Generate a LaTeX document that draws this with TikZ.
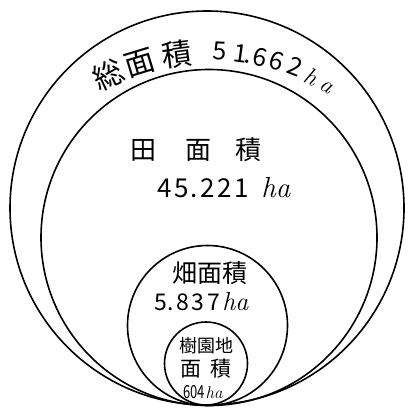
\documentclass[tikz,border=0pt]{standalone}
\usepackage{fontspec}
\usepackage{graphicx}
\newfontfamily\cjk{Noto Sans CJK JP}
\newcommand\hax[1]{{\rmfamily\itshape #1}}
\begin{document}
\begin{tikzpicture}[x=1pt,y=-1pt,
  ring/.style={draw=black,line width=1.6pt},
  lbl/.style={inner sep=0pt,outer sep=0pt,font=\cjk}]
\useasboundingbox (0,0) rectangle (407,409);
% nested circles, tangent at the bottom
\draw[ring] (207,208) circle[radius=197];
\draw[ring] (209,237.5) circle[radius=168];
\draw[ring] (207.5,325.5) circle[radius=80];
\draw[ring] (206,363.5) circle[radius=41.5];
% arched title
\coordinate (arcc) at (208,288);
\foreach \a/\c/\s/\r [count=\i] in {
  115.1/総/30/224.5, 106.9/面/30/224.5, 97.5/積/30/224.5,
  87.2/5/25/228, 82.2/1/25/228, 80.2/{.}/25/228, 77.3/6/25/228,
  73.1/6/25/228, 68.5/2/25/229, 64.0/\hax{h}/24/227, 59.4/\hax{a}/24/228}
  \path (arcc) ++(-\a:\r) node[lbl,anchor=base,rotate=\a-90,
     font=\cjk\fontsize{\s}{\s}\selectfont] (a\i) {\c};
% 田面積
\node[lbl,font=\cjk\fontsize{26}{26}\selectfont] (d1) at (143,150) {田};
\node[lbl,font=\cjk\fontsize{26}{26}\selectfont] (d2) at (198,150) {面};
\node[lbl,font=\cjk\fontsize{26}{26}\selectfont] (d3) at (248,150) {積};
\node[lbl,anchor=base west,font=\cjk\fontsize{26}{26}\selectfont] (dv) at (157,197)
  {4\kern3pt 5\kern2pt.\kern2pt 2\kern3pt 2\kern3pt 1\hspace{12pt}{\fontsize{29}{29}\selectfont\hax{ha}}};
% 畑面積
\node[lbl,font=\cjk\fontsize{25}{25}\selectfont] (h1) at (210,273) {畑面積};
\node[lbl,anchor=base west,font=\cjk\fontsize{23}{23}\selectfont] (hv) at (154,310)
  {5\kern1pt.\kern2pt 8\kern3pt 3\kern3pt 7\hspace{2pt}{\fontsize{26}{26}\selectfont\hax{ha}}};
% 樹園地面積
\node[lbl,font=\cjk\fontsize{18}{18}\selectfont] (j1) at (206,346) {樹園地};
\node[lbl,font=\cjk\fontsize{21}{21}\selectfont] (j2) at (191,369) {面};
\node[lbl,font=\cjk\fontsize{21}{21}\selectfont] (j3) at (221,369) {積};
\node[lbl,anchor=base west,font=\cjk\fontsize{18}{18}\selectfont] (jv) at (183,398)
  {\scalebox{0.72}[1]{604}\hspace{1pt}{\fontsize{17}{17}\selectfont\hax{ha}}};
\end{tikzpicture}
\end{document}
